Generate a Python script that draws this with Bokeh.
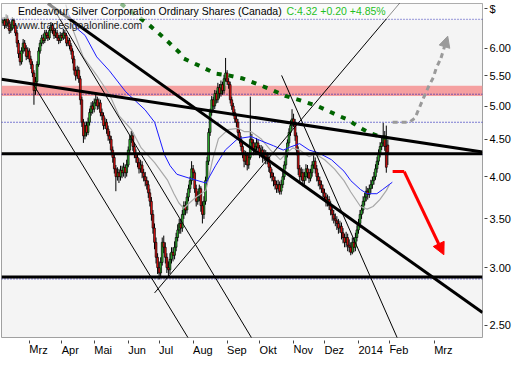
from bokeh.plotting import figure
from bokeh.models import (Range1d, FixedTicker, Label, BoxAnnotation, Span, Arrow,
                          NormalHead, PrintfTickFormatter)
from bokeh.embed import file_html
from bokeh.resources import INLINE

# ---------------- data (daily bars, Feb 2013 - Jan 2014) ----------------
opens = [6.50, 6.55, 6.45, 6.60, 6.50, 6.35, 6.40, 6.55, 6.45, 6.30,
         6.10, 5.90, 5.75, 5.95, 6.10, 6.00, 5.85, 5.95, 5.80, 5.70,
         5.55, 5.25, 5.40, 5.70, 5.95, 6.10, 6.20, 6.15, 6.30, 6.25,
         6.20, 6.35, 6.45, 6.35, 6.25, 6.30, 6.20, 6.15, 6.25, 6.20,
         6.30, 6.25, 6.10, 6.15, 6.05, 5.95, 5.80, 5.60, 5.50, 5.60,
         5.45, 5.10, 4.75, 4.55, 4.70, 4.60, 4.75, 4.90, 5.00, 4.95,
         5.05, 5.10, 5.00, 5.05, 4.90, 4.85, 4.70, 4.75, 4.65, 4.55,
         4.50, 4.35, 4.25, 4.10, 4.00, 4.05, 4.00, 4.08, 4.05, 4.12,
         4.05, 4.15, 4.35, 4.50, 4.55, 4.40, 4.30, 4.25, 4.18, 4.10,
         4.15, 4.05, 4.00, 3.95, 3.90, 3.80, 3.70, 3.55, 3.40, 3.25,
         3.10, 3.00, 2.95, 3.05, 3.25, 3.20, 3.10, 3.00, 2.98, 3.08,
         3.15, 3.12, 3.20, 3.30, 3.38, 3.45, 3.40, 3.55, 3.65, 3.60,
         3.75, 3.85, 3.95, 4.10, 4.05, 3.85, 3.70, 3.75, 3.85, 3.65,
         3.55, 3.70, 3.95, 4.20, 4.60, 4.90, 5.10, 5.00, 5.20, 5.10,
         5.30, 5.20, 5.35, 5.25, 5.45, 5.55, 5.40, 5.35, 5.10, 5.00,
         4.90, 4.80, 4.75, 4.60, 4.50, 4.40, 4.30, 4.20, 4.28, 4.15,
         4.25, 4.50, 4.45, 4.35, 4.40, 4.45, 4.38, 4.30, 4.35, 4.25,
         4.30, 4.22, 4.25, 4.12, 4.05, 4.00, 3.95, 3.90, 3.85, 3.90,
         3.82, 3.90, 4.00, 4.15, 4.30, 4.45, 4.60, 4.70, 4.80, 4.75,
         4.55, 4.35, 4.10, 4.00, 4.05, 3.95, 4.00, 4.10, 4.05, 3.98,
         4.05, 4.15, 4.20, 4.10, 4.00, 3.95, 3.90, 3.85, 3.80, 3.75,
         3.70, 3.72, 3.65, 3.60, 3.55, 3.50, 3.48, 3.45, 3.40, 3.42,
         3.35, 3.30, 3.25, 3.30, 3.22, 3.20, 3.15, 3.25, 3.20, 3.30,
         3.38, 3.45, 3.55, 3.60, 3.70, 3.75, 3.82, 3.78, 3.85, 3.90,
         3.95, 4.00, 4.10, 4.20, 4.30, 4.40, 4.45, 4.55, 4.40, 4.42]

highs = [6.62, 6.62, 6.68, 6.66, 6.56, 6.48, 6.62, 6.60, 6.50, 6.36,
         6.16, 5.96, 6.02, 6.18, 6.16, 6.06, 6.02, 6.00, 5.86, 5.76,
         5.60, 5.48, 5.76, 6.02, 6.16, 6.26, 6.28, 6.36, 6.36, 6.32,
         6.42, 6.52, 6.50, 6.40, 6.38, 6.36, 6.26, 6.32, 6.30, 6.38,
         6.36, 6.30, 6.22, 6.20, 6.10, 6.00, 5.86, 5.66, 5.68, 5.66,
         5.50, 5.15, 4.80, 4.76, 4.76, 4.82, 4.96, 5.06, 5.08, 5.12,
         5.22, 5.15, 5.12, 5.10, 4.96, 4.90, 4.82, 4.80, 4.70, 4.62,
         4.55, 4.40, 4.30, 4.15, 4.12, 4.10, 4.14, 4.14, 4.18, 4.16,
         4.22, 4.40, 4.56, 4.62, 4.60, 4.45, 4.36, 4.30, 4.24, 4.22,
         4.20, 4.10, 4.06, 4.00, 3.95, 3.85, 3.75, 3.60, 3.45, 3.30,
         3.14, 3.06, 3.10, 3.30, 3.32, 3.25, 3.14, 3.06, 3.14, 3.20,
         3.20, 3.26, 3.35, 3.44, 3.50, 3.50, 3.60, 3.70, 3.70, 3.80,
         3.90, 4.00, 4.20, 4.15, 4.08, 3.90, 3.82, 3.90, 3.88, 3.70,
         3.76, 4.00, 4.26, 4.66, 4.96, 5.16, 5.15, 5.26, 5.25, 5.38,
         5.36, 5.42, 5.40, 5.52, 5.82, 5.60, 5.46, 5.40, 5.15, 5.05,
         4.95, 4.86, 4.80, 4.65, 4.55, 4.45, 4.35, 4.34, 4.32, 4.30,
         5.15, 4.58, 4.50, 4.46, 4.52, 4.50, 4.42, 4.42, 4.40, 4.36,
         4.35, 4.32, 4.30, 4.16, 4.10, 4.05, 4.00, 3.95, 3.96, 3.94,
         3.96, 4.06, 4.20, 4.36, 4.50, 4.66, 4.78, 4.95, 4.88, 4.80,
         4.60, 4.40, 4.15, 4.12, 4.10, 4.06, 4.16, 4.15, 4.10, 4.10,
         4.20, 4.28, 4.25, 4.15, 4.05, 4.00, 3.95, 3.90, 3.85, 3.80,
         3.78, 3.76, 3.70, 3.65, 3.60, 3.56, 3.53, 3.50, 3.48, 3.46,
         3.40, 3.34, 3.36, 3.34, 3.28, 3.25, 3.30, 3.30, 3.35, 3.43,
         3.50, 3.60, 3.66, 3.76, 3.80, 3.88, 3.86, 3.90, 3.96, 4.00,
         4.06, 4.16, 4.26, 4.36, 4.46, 4.52, 4.74, 4.62, 4.70, 4.50]

lows = [6.44, 6.38, 6.40, 6.44, 6.28, 6.30, 6.35, 6.38, 6.24, 6.02,
        5.82, 5.68, 5.70, 5.90, 5.94, 5.78, 5.80, 5.74, 5.62, 5.48,
        5.02, 5.18, 5.36, 5.66, 5.90, 6.04, 6.08, 6.10, 6.18, 6.14,
        6.16, 6.30, 6.28, 6.18, 6.20, 6.14, 6.08, 6.10, 6.14, 6.16,
        6.18, 6.04, 6.04, 5.98, 5.88, 5.72, 5.52, 5.42, 5.45, 5.38,
        5.02, 4.68, 4.45, 4.50, 4.54, 4.56, 4.70, 4.85, 4.88, 4.90,
        5.00, 4.94, 4.95, 4.84, 4.78, 4.64, 4.65, 4.58, 4.48, 4.44,
        4.28, 4.18, 4.04, 3.82, 3.95, 3.92, 3.95, 3.98, 4.00, 3.98,
        4.00, 4.12, 4.30, 4.45, 4.34, 4.24, 4.18, 4.12, 4.04, 4.05,
        3.98, 3.94, 3.88, 3.84, 3.74, 3.64, 3.48, 3.34, 3.18, 3.04,
        2.94, 2.89, 2.92, 3.02, 3.14, 3.04, 2.95, 2.92, 2.94, 3.04,
        3.06, 3.08, 3.16, 3.26, 3.34, 3.34, 3.36, 3.50, 3.54, 3.56,
        3.70, 3.80, 3.90, 3.98, 3.80, 3.64, 3.66, 3.70, 3.58, 3.45,
        3.50, 3.66, 3.90, 4.15, 4.55, 4.85, 4.92, 4.95, 5.04, 5.05,
        5.12, 5.15, 5.18, 5.20, 5.40, 5.34, 5.28, 5.04, 4.94, 4.84,
        4.74, 4.68, 4.54, 4.44, 4.34, 4.24, 4.12, 4.15, 4.08, 4.10,
        4.22, 4.38, 4.28, 4.30, 4.35, 4.32, 4.24, 4.26, 4.18, 4.20,
        4.16, 4.16, 4.06, 3.98, 3.94, 3.88, 3.84, 3.80, 3.80, 3.78,
        3.78, 3.86, 3.96, 4.10, 4.25, 4.40, 4.55, 4.65, 4.68, 4.48,
        4.28, 4.02, 3.92, 3.95, 3.88, 3.90, 3.95, 3.98, 3.92, 3.94,
        4.00, 4.10, 4.04, 3.94, 3.88, 3.84, 3.80, 3.74, 3.70, 3.64,
        3.64, 3.60, 3.54, 3.48, 3.45, 3.42, 3.38, 3.34, 3.35, 3.28,
        3.24, 3.20, 3.20, 3.16, 3.15, 3.12, 3.13, 3.15, 3.16, 3.26,
        3.34, 3.40, 3.50, 3.56, 3.65, 3.70, 3.72, 3.74, 3.80, 3.85,
        3.90, 3.96, 4.05, 4.15, 4.25, 4.35, 4.40, 4.34, 4.05, 4.15]

closes = [6.55, 6.45, 6.60, 6.50, 6.35, 6.40, 6.55, 6.45, 6.30, 6.10,
          5.90, 5.75, 5.95, 6.10, 6.00, 5.85, 5.95, 5.80, 5.70, 5.55,
          5.25, 5.40, 5.70, 5.95, 6.10, 6.20, 6.15, 6.30, 6.25, 6.20,
          6.35, 6.45, 6.35, 6.25, 6.30, 6.20, 6.15, 6.25, 6.20, 6.30,
          6.25, 6.10, 6.15, 6.05, 5.95, 5.80, 5.60, 5.50, 5.60, 5.45,
          5.10, 4.75, 4.55, 4.70, 4.60, 4.75, 4.90, 5.00, 4.95, 5.05,
          5.10, 5.00, 5.05, 4.90, 4.85, 4.70, 4.75, 4.65, 4.55, 4.50,
          4.35, 4.25, 4.10, 4.00, 4.05, 4.00, 4.08, 4.05, 4.12, 4.05,
          4.15, 4.35, 4.50, 4.55, 4.40, 4.30, 4.25, 4.18, 4.10, 4.15,
          4.05, 4.00, 3.95, 3.90, 3.80, 3.70, 3.55, 3.40, 3.25, 3.10,
          3.00, 2.95, 3.05, 3.25, 3.20, 3.10, 3.00, 2.98, 3.08, 3.15,
          3.12, 3.20, 3.30, 3.38, 3.45, 3.40, 3.55, 3.65, 3.60, 3.75,
          3.85, 3.95, 4.10, 4.05, 3.85, 3.70, 3.75, 3.85, 3.65, 3.55,
          3.70, 3.95, 4.20, 4.60, 4.90, 5.10, 5.00, 5.20, 5.10, 5.30,
          5.20, 5.35, 5.25, 5.45, 5.55, 5.40, 5.35, 5.10, 5.00, 4.90,
          4.80, 4.75, 4.60, 4.50, 4.40, 4.30, 4.20, 4.28, 4.15, 4.25,
          4.50, 4.45, 4.35, 4.40, 4.45, 4.38, 4.30, 4.35, 4.25, 4.30,
          4.22, 4.25, 4.12, 4.05, 4.00, 3.95, 3.90, 3.85, 3.90, 3.82,
          3.90, 4.00, 4.15, 4.30, 4.45, 4.60, 4.70, 4.80, 4.75, 4.55,
          4.35, 4.10, 4.00, 4.05, 3.95, 4.00, 4.10, 4.05, 3.98, 4.05,
          4.15, 4.20, 4.10, 4.00, 3.95, 3.90, 3.85, 3.80, 3.75, 3.70,
          3.72, 3.65, 3.60, 3.55, 3.50, 3.48, 3.45, 3.40, 3.42, 3.35,
          3.30, 3.25, 3.30, 3.22, 3.20, 3.15, 3.25, 3.20, 3.30, 3.38,
          3.45, 3.55, 3.60, 3.70, 3.75, 3.82, 3.78, 3.85, 3.90, 3.95,
          4.00, 4.10, 4.20, 4.30, 4.40, 4.45, 4.55, 4.40, 4.12, 4.32]

# moving averages (bar index, price)
ma_gray_x = [40.6, 45, 51.9, 60.6, 68.8, 75, 80, 83.1, 89.4, 98.1, 106.3, 110.6, 113.8, 116.9,
             120.6, 125, 131.3, 135.6, 139.4, 145.6, 151.9, 156.3, 160.6, 166.9, 173.1, 179.4,
             183.1, 187.5, 191.9, 198.1, 201.9, 208.1, 214.4, 220.6, 225, 231.3, 235.6, 239.4,
             243.8, 248.1, 250]
ma_gray_y = [6.89, 6.38, 5.84, 5.51, 5.19, 4.85, 4.72, 4.64, 4.38, 4.18, 3.96, 3.79, 3.68, 3.62,
             3.68, 3.75, 3.83, 4.22, 4.51, 4.64, 4.66, 4.61, 4.61, 4.51, 4.35, 4.22,
             4.30, 4.38, 4.35, 4.26, 4.30, 4.22, 4.10, 3.95, 3.81, 3.64, 3.61, 3.64,
             3.72, 3.83, 3.90]
ma_blue_x = [42.5, 48.1, 53.1, 60.6, 68.8, 79.4, 91.9, 98.1, 104.4, 108.1, 112.5, 120.6, 131.3,
             137.5, 143.8, 151.9, 160.6, 166.9, 175, 181.3, 185.6, 191.9, 198.1, 204.4, 212.5,
             220.6, 225, 231.3, 235.6, 241.9, 245.6, 251.9]
ma_blue_y = [6.67, 6.38, 6.25, 5.84, 5.59, 5.23, 4.94, 4.75, 4.29, 4.14, 4.03, 3.98, 3.92,
             4.14, 4.35, 4.51, 4.54, 4.48, 4.41, 4.35, 4.39, 4.44, 4.35, 4.31, 4.22,
             4.07, 3.95, 3.84, 3.79, 3.79, 3.84, 3.93]
ma_green_x = [76.3, 85.6, 93.8, 103.1, 113.8, 116.9, 126.9, 137.5, 145.6, 154.4, 162.5, 173.1,
              183.1, 193.8, 204.4, 216.9, 223.1, 226.9, 232.5, 237.5, 242.5, 248.1]
ma_green_y = [6.91, 6.67, 6.48, 6.23, 5.93, 5.81, 5.68, 5.54, 5.51, 5.46, 5.38, 5.27,
              5.16, 5.08, 4.99, 4.85, 4.79, 4.73, 4.65, 4.59, 4.55, 4.52]

# drawing tools (bar index, price)
dotted_levels = [6.58, 5.19, 4.75, 4.29, 2.895]
solid_levels = [4.30, 2.912]
zone_low, zone_high = 5.16, 5.33
thick_lines = [([-1, 310.25], [5.443, 4.324]), ([29, 310.25], [6.913, 2.603])]
thin_lines = [([19, 123.1], [5.38, 2.34]), ([30.7, 164.1], [6.913, 2.34]),
              ([180.25, 257.5], [5.508, 2.34]), ([98.06, 260.6], [2.770, 7.08])]
up_path_x = [252.1, 262.75, 266.5, 272.1, 275.25, 278.4, 280.25, 283.4]
up_path_y = [4.75, 4.75, 4.81, 5.13, 5.31, 5.47, 5.63, 5.82]
up_head = (283.4, 5.82, 287.75, 6.235)
down_path_x = [252.1, 259.6]
down_path_y = [4.064, 4.064]
down_head = (259.6, 4.064, 285.25, 3.125)

month_ticks = [17, 38, 59, 81, 101, 123, 145, 166, 188, 208, 230, 250, 279]
month_labels = ["Mrz", "Apr", "Mai", "Jun", "Jul", "Aug", "Sep", "Okt", "Nov", "Dez",
                "2014", "Feb", "Mrz"]
price_ticks = [2.5, 3.0, 3.5, 4.0, 4.5, 5.0, 5.5, 6.0]
currency_pos = 6.8
currency_label = "$"

title_main = "Endeavour Silver Corporation Ordinary Shares (Canada)"
title_quote = "C:4.32 +0.20 +4.85%"
watermark = "\u00a9 www.tradesignalonline.com"

# ---------------- figure ----------------
FONT = "Liberation Sans"
p = figure(width=516, height=364, x_range=Range1d(-1, 310.25), y_range=Range1d(2.406, 6.913),
           y_axis_type="log", y_axis_location="right", output_backend="svg",
           toolbar_location=None, background_fill_color="#f4f4f4", border_fill_color="white",
           min_border_left=1, min_border_top=3, min_border_right=34, min_border_bottom=19,
           outline_line_color="#a0a0a0", outline_line_width=1)
p.grid.visible = False

# y axis
ya = p.yaxis[0]
ya.ticker = FixedTicker(ticks=price_ticks + [currency_pos])
ya.formatter = PrintfTickFormatter(format="%.2f")
ya.major_label_overrides = {currency_pos: currency_label}
ya.axis_line_color = None
ya.major_tick_in = -2
ya.major_tick_out = 5
ya.major_tick_line_color = "#444444"
ya.minor_tick_line_color = None
ya.major_label_text_font = FONT
ya.major_label_text_font_size = "11px"
ya.major_label_text_color = "black"
ya.major_label_standoff = 2

# x axis: labels start at their tick (tiny negative angle -> left anchored)
xa = p.xaxis[0]
xa.ticker = FixedTicker(ticks=month_ticks)
xa.major_label_overrides = {t: l for t, l in zip(month_ticks, month_labels)}
xa.axis_line_color = None
xa.major_tick_in = -3
xa.major_tick_out = 6
xa.major_tick_line_color = "#444444"
xa.minor_tick_line_color = None
xa.major_label_text_font = FONT
xa.major_label_text_font_size = "11px"
xa.major_label_text_color = "black"
xa.major_label_orientation = -0.0001
xa.major_label_standoff = 6

# resistance zone and levels
p.add_layout(BoxAnnotation(bottom=zone_low, top=zone_high, fill_color="#f5a0a0",
                           fill_alpha=1.0, line_color=None, level="underlay"))
for lv in dotted_levels:
    p.add_layout(Span(location=lv, dimension="width", line_color="#0000b0",
                      line_dash="1 2", line_width=1, level="underlay"))

# candles
n = len(closes)
idx = list(range(n))
p.segment(x0=idx, y0=lows, x1=idx, y1=highs, line_color="black", line_width=1)
up_i = [i for i in idx if closes[i] >= opens[i]]
dn_i = [i for i in idx if closes[i] < opens[i]]
p.vbar(x=up_i, width=1.15, bottom=[opens[i] for i in up_i], top=[closes[i] for i in up_i],
       fill_color="#2fbf2f", line_color="black", line_width=0.7)
p.vbar(x=dn_i, width=1.15, bottom=[closes[i] for i in dn_i], top=[opens[i] for i in dn_i],
       fill_color="#ee1111", line_color="black", line_width=0.7)

# moving averages
p.line(ma_gray_x, ma_gray_y, line_color="#a8a8a8", line_width=1.2)
p.line(ma_blue_x, ma_blue_y, line_color="#1a1aff", line_width=1)
p.line(ma_green_x, ma_green_y, line_color="#006400", line_width=4, line_dash="5 7")

# trend lines
for lv in solid_levels:
    p.add_layout(Span(location=lv, dimension="width", line_color="black", line_width=3))
for xs_, ys_ in thick_lines:
    p.line(xs_, ys_, line_color="black", line_width=3)
for xs_, ys_ in thin_lines:
    p.line(xs_, ys_, line_color="black", line_width=1)

# projection arrows
p.line(up_path_x, up_path_y, line_color="#9a9a9a", line_width=3, line_dash="5 4")
p.add_layout(Arrow(end=NormalHead(size=11, fill_color="#9a9a9a", line_color="#9a9a9a"),
                   x_start=up_head[0], y_start=up_head[1], x_end=up_head[2], y_end=up_head[3],
                   line_color="#9a9a9a", line_width=3, line_dash="5 4"))
p.line(down_path_x, down_path_y, line_color="#ff0000", line_width=3)
p.add_layout(Arrow(end=NormalHead(size=12, fill_color="#ff0000", line_color="#ff0000"),
                   x_start=down_head[0], y_start=down_head[1], x_end=down_head[2],
                   y_end=down_head[3], line_color="#ff0000", line_width=3))

# title band and texts
p.add_layout(BoxAnnotation(bottom=6.58, fill_color="white", fill_alpha=0.55, line_color=None))
p.add_layout(Label(x=9.6, y=6.75, text=title_main, text_font=FONT, text_font_size="10.5px",
                   text_color="black", text_baseline="middle"))
p.add_layout(Label(x=183.4, y=6.75, text=title_quote, text_font=FONT, text_font_size="10.5px",
                   text_color="#1fbf1f", text_baseline="middle"))
p.add_layout(Label(x=0.9, y=6.46, text=watermark, text_font=FONT, text_font_size="10.5px",
                   text_color="#222222", text_baseline="middle"))

open("out.html", "w").write(file_html(p, INLINE))
